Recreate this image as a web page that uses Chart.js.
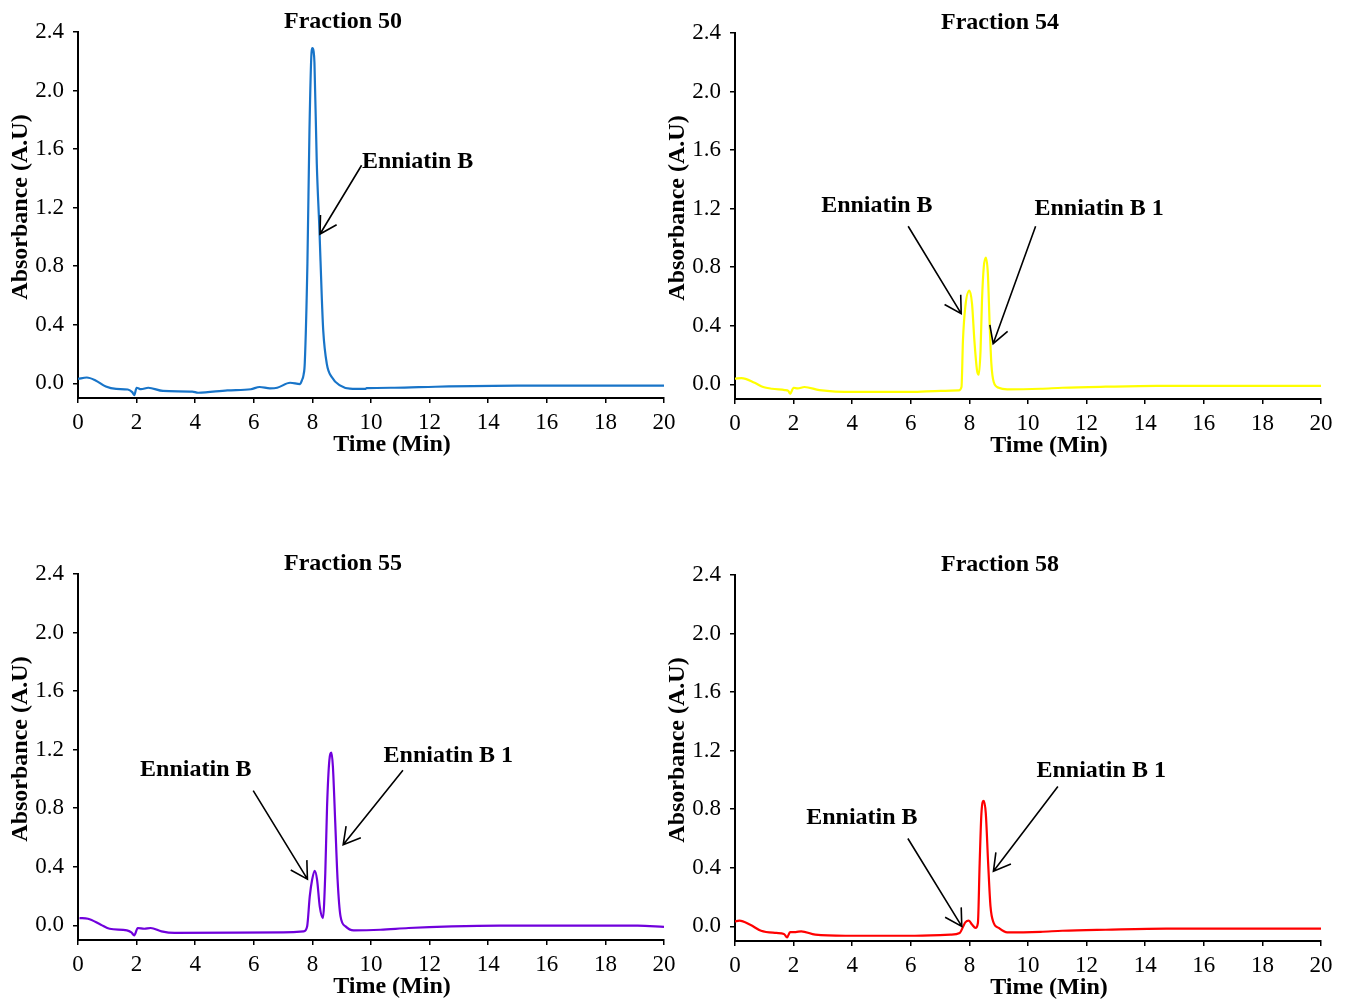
<!DOCTYPE html>
<html>
<head>
<meta charset="utf-8">
<script src="https://cdn.jsdelivr.net/npm/chart.js@4.4.1/dist/chart.umd.min.js"></script>
<style>
  body { margin: 0; background: #fff; }
  #wrap { position: relative; width: 1350px; height: 1003px; overflow: hidden; }
  #wrap canvas { position: absolute; }
</style>
</head>
<body>
<div id="wrap">
  <canvas id="c50" width="690" height="470" style="left:0px;top:0px"></canvas>
  <canvas id="c54" width="690" height="470" style="left:657px;top:1px"></canvas>
  <canvas id="c55" width="690" height="470" style="left:0px;top:542px"></canvas>
  <canvas id="c58" width="690" height="470" style="left:657px;top:543px"></canvas>
</div>
<script>
// tick labels
const xTicks = [0, 2, 4, 6, 8, 10, 12, 14, 16, 18, 20];
const yTicks = [0, 0.4, 0.8, 1.2, 1.6, 2.0, 2.4];

// Fraction 50
const f50Time = [0, 0.3, 0.6, 0.95, 1.3, 1.7, 1.85, 1.92, 2.0, 2.15, 2.4, 2.9, 3.9, 4.1, 5.1, 5.9, 6.2, 6.55, 6.8, 7.24, 7.58, 7.64, 7.7, 7.74, 7.83, 7.9, 7.97, 8.0, 8.04, 8.07, 8.15, 8.24, 8.32, 8.37, 8.49, 8.66, 8.94, 9.28, 9.8, 9.85, 10.8, 12.2, 15, 20];
const f50Abs = [0.03, 0.04, 0.02, -0.022, -0.038, -0.042, -0.06, -0.08, -0.03, -0.04, -0.03, -0.052, -0.056, -0.064, -0.048, -0.04, -0.025, -0.034, -0.03, 0.004, -0.005, 0.02, 0.06, 0.14, 0.82, 1.73, 2.26, 2.29, 2.27, 2.19, 1.50, 1.05, 0.59, 0.36, 0.135, 0.043, -0.014, -0.036, -0.038, -0.033, -0.03, -0.023, -0.016, -0.016];

// Fraction 54
const f54Time = [0, 0.22, 0.67, 0.96, 1.26, 1.7, 1.82, 1.88, 2.0, 2.14, 2.37, 2.88, 4.07, 6.0, 7.03, 7.64, 7.73, 7.78, 7.86, 8.0, 8.09, 8.17, 8.26, 8.32, 8.38, 8.43, 8.49, 8.56, 8.63, 8.69, 8.75, 8.83, 9.0, 9.29, 10.43, 11.17, 12.65, 14.4, 20];
const f54Abs = [0.039, 0.043, 0.011, -0.018, -0.03, -0.039, -0.045, -0.064, -0.023, -0.028, -0.018, -0.039, -0.052, -0.052, -0.045, -0.041, -0.018, 0.30, 0.53, 0.64, 0.55, 0.30, 0.096, 0.066, 0.23, 0.574, 0.80, 0.866, 0.757, 0.415, 0.14, 0.016, -0.023, -0.034, -0.03, -0.023, -0.016, -0.011, -0.011];

// Fraction 55
const f55Time = [0.05, 0.34, 0.78, 1.08, 1.67, 1.82, 1.92, 2.04, 2.26, 2.48, 2.85, 3.3, 7.0, 7.7, 7.82, 7.91, 7.99, 8.08, 8.16, 8.25, 8.36, 8.44, 8.5, 8.58, 8.65, 8.7, 8.78, 8.86, 8.96, 9.13, 9.41, 10.32, 11.28, 12.76, 14.38, 19.1, 20];
const f55Abs = [0.05, 0.045, 0.005, -0.023, -0.034, -0.048, -0.068, -0.018, -0.023, -0.018, -0.041, -0.052, -0.048, -0.041, -0.007, 0.198, 0.311, 0.373, 0.311, 0.13, 0.05, 0.357, 0.81, 1.13, 1.18, 1.083, 0.70, 0.31, 0.061, -0.007, -0.034, -0.03, -0.018, -0.007, -0.002, -0.002, -0.011];

// Fraction 58
const f58Time = [0, 0.15, 0.52, 0.89, 1.41, 1.67, 1.78, 1.88, 2.07, 2.26, 2.74, 3.77, 6.14, 7.35, 7.67, 7.79, 7.86, 7.98, 8.09, 8.21, 8.29, 8.35, 8.41, 8.49, 8.56, 8.64, 8.72, 8.83, 9.0, 9.29, 10.43, 11.17, 12.65, 14.72, 20];
const f58Abs = [0.034, 0.039, 0.011, -0.03, -0.045, -0.052, -0.075, -0.039, -0.039, -0.034, -0.057, -0.064, -0.064, -0.057, -0.045, 0.0, 0.027, 0.039, 0.012, -0.011, 0.023, 0.43, 0.77, 0.858, 0.77, 0.43, 0.136, 0.023, -0.011, -0.041, -0.037, -0.03, -0.023, -0.016, -0.016];

// peak labels, in axis units: text anchor, arrow tail, arrow tip
const f50Notes = [
  { text: 'Enniatin B', tx: 9.69, ty: 1.51, x0: 9.68, y0: 1.49, x1: 8.26, y1: 1.02 }
];
const f54Notes = [
  { text: 'Enniatin B', tx: 2.94, ty: 1.22, x0: 5.91, y0: 1.08, x1: 7.72, y1: 0.483 },
  { text: 'Enniatin B 1', tx: 10.22, ty: 1.20, x0: 10.26, y0: 1.08, x1: 8.81, y1: 0.278 }
];
const f55Notes = [
  { text: 'Enniatin B', tx: 2.12, ty: 1.06, x0: 5.98, y0: 0.92, x1: 7.83, y1: 0.316 },
  { text: 'Enniatin B 1', tx: 10.43, ty: 1.16, x0: 11.09, y0: 1.06, x1: 9.05, y1: 0.55 }
];
const f58Notes = [
  { text: 'Enniatin B', tx: 2.43, ty: 0.74, x0: 5.90, y0: 0.60, x1: 7.74, y1: 0.0 },
  { text: 'Enniatin B 1', tx: 10.29, ty: 1.065, x0: 11.02, y0: 0.956, x1: 8.82, y1: 0.376 }
];

const SERIF = '"Liberation Serif", "Times New Roman", serif';
const boldFont = 'bold 24px ' + SERIF;

function drawArrow(ctx, x0, y0, x1, y1) {
    const ang = Math.atan2(y0 - y1, x0 - x1);
    const len = 19;
    ctx.beginPath();
    ctx.moveTo(x0, y0);
    ctx.lineTo(x1, y1);
    ctx.moveTo(x1 + len * Math.cos(ang - 0.52), y1 + len * Math.sin(ang - 0.52));
    ctx.lineTo(x1, y1);
    ctx.lineTo(x1 + len * Math.cos(ang + 0.52), y1 + len * Math.sin(ang + 0.52));
    ctx.stroke();
}

// titles, axis titles and arrows
const textPlugin = {
    id: 'panelText',
    afterDraw(chart, args, opts) {
        const ctx = chart.ctx;
        const a = chart.chartArea;
        const xs = chart.scales.x, ys = chart.scales.y;
        ctx.save();
        ctx.fillStyle = '#000';
        ctx.font = boldFont;
        ctx.textBaseline = 'middle';
        ctx.textAlign = 'center';
        ctx.fillText(opts.title, a.left + 265, a.top - 10);
        ctx.fillText('Time (Min)', a.left + 314, a.bottom + 47);
        ctx.save();
        ctx.translate(21, a.top + 175);
        ctx.rotate(-Math.PI / 2);
        ctx.fillText('Absorbance (A.U)', 0, 0);
        ctx.restore();

        ctx.textAlign = 'left';
        ctx.strokeStyle = '#000';
        ctx.lineWidth = 1.6;
        opts.notes.forEach(function (n) {
            ctx.fillText(n.text, xs.getPixelForValue(n.tx), ys.getPixelForValue(n.ty));
            drawArrow(ctx,
                xs.getPixelForValue(n.x0), ys.getPixelForValue(n.y0),
                xs.getPixelForValue(n.x1), ys.getPixelForValue(n.y1));
        });
        ctx.restore();
    }
};

function makeChart(id, title, times, values, color, notes) {
    const tickFont = { family: SERIF, size: 23 };
    new Chart(document.getElementById(id), {
        type: 'line',
        data: {
            datasets: [{
                data: times.map(function (t, i) { return { x: t, y: values[i] }; }),
                borderColor: color,
                borderWidth: 2.2,
                pointRadius: 0,
                cubicInterpolationMode: 'monotone',
                fill: false
            }]
        },
        options: {
            responsive: false,
            animation: false,
            layout: { padding: { left: 0, top: 32, right: 26, bottom: 0 } },
            plugins: {
                legend: { display: false },
                tooltip: { enabled: false },
                panelText: { title: title, notes: notes }
            },
            scales: {
                x: {
                    type: 'linear',
                    min: 0,
                    max: 20,
                    afterFit: function (s) { s.height = 72; },
                    afterBuildTicks: function (s) { s.ticks = xTicks.map(function (v) { return { value: v }; }); },
                    grid: { drawOnChartArea: false, drawTicks: true, tickLength: 5, color: '#000', lineWidth: 1.5 },
                    border: { display: true, color: '#000', width: 2 },
                    ticks: { font: tickFont, color: '#000', padding: 6, maxRotation: 0, autoSkip: false }
                },
                y: {
                    type: 'linear',
                    min: -0.1,
                    max: 2.4,
                    afterFit: function (s) { s.width = 78; },
                    afterBuildTicks: function (s) { s.ticks = yTicks.map(function (v) { return { value: v }; }); },
                    grid: { drawOnChartArea: false, drawTicks: true, tickLength: 5, color: '#000', lineWidth: 1.5 },
                    border: { display: true, color: '#000', width: 2 },
                    ticks: {
                        font: tickFont, color: '#000', padding: 9, autoSkip: false,
                        callback: function (v) { return Number(v).toFixed(1); }
                    }
                }
            }
        },
        plugins: [textPlugin]
    });
}

makeChart('c50', 'Fraction 50', f50Time, f50Abs, '#1874c8', f50Notes);
makeChart('c54', 'Fraction 54', f54Time, f54Abs, '#ffff00', f54Notes);
makeChart('c55', 'Fraction 55', f55Time, f55Abs, '#7000dc', f55Notes);
makeChart('c58', 'Fraction 58', f58Time, f58Abs, '#ff0000', f58Notes);
</script>
</body>
</html>
